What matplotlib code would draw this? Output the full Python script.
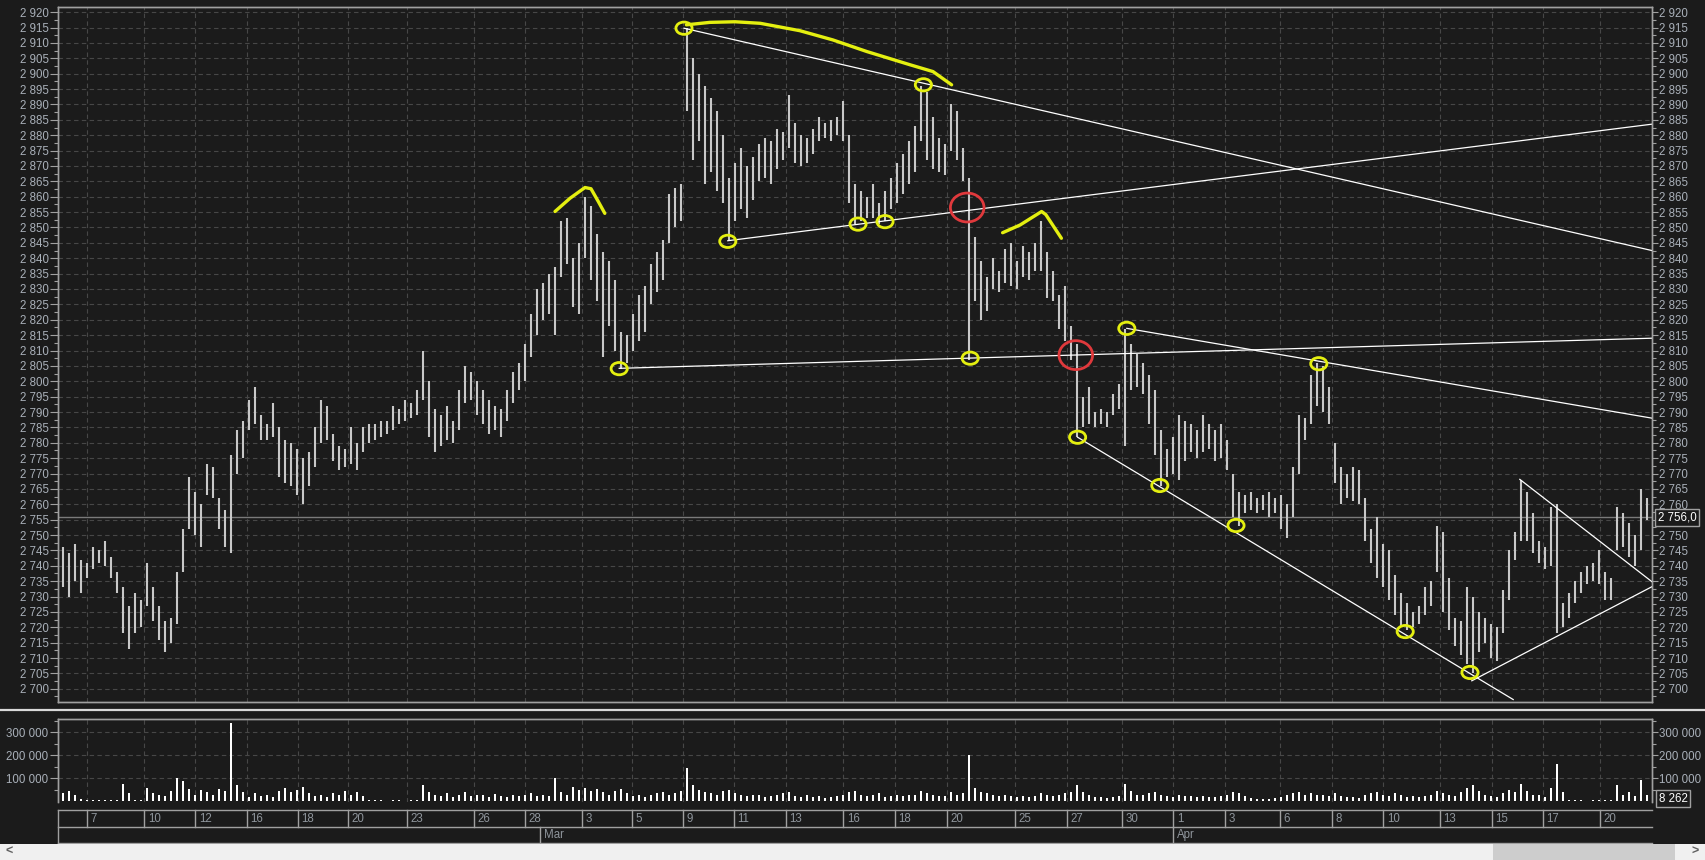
import matplotlib
matplotlib.use("Agg")
import matplotlib.pyplot as plt
from matplotlib.patches import Ellipse, Rectangle
from matplotlib.lines import Line2D
from matplotlib.ticker import MultipleLocator, FixedLocator, FuncFormatter
import numpy as np

# ---------------- data ----------------
highs = [
    2746, 2744, 2747, 2742, 2741, 2746, 2745, 2748, 2743, 2738,
    2733, 2727, 2731, 2729, 2741, 2733, 2727, 2722, 2723, 2738,
    2752, 2769, 2764, 2760, 2773, 2772, 2762, 2758, 2776, 2784,
    2787, 2794, 2798, 2789, 2786, 2793, 2785, 2781, 2780, 2778,
    2775, 2777, 2785, 2794, 2792, 2783, 2779, 2778, 2785, 2780,
    2785, 2786, 2786, 2787, 2787, 2792, 2791, 2794, 2793, 2797,
    2810, 2800, 2791, 2789, 2792, 2787, 2797, 2805, 2803, 2800,
    2797, 2794, 2792, 2791, 2797, 2803, 2806, 2812, 2822, 2830,
    2832, 2835, 2837, 2852, 2853, 2840, 2845, 2860, 2857, 2848,
    2842, 2839, 2833, 2816, 2815, 2822, 2828, 2831, 2838, 2842,
    2846, 2861, 2863, 2864, 2915, 2905, 2900, 2896, 2892, 2888,
    2880, 2866, 2871, 2876, 2870, 2873, 2877, 2879, 2878, 2882,
    2881, 2893, 2884, 2880, 2879, 2882, 2886, 2884, 2885, 2886,
    2891, 2880, 2864, 2862, 2860, 2864, 2858, 2862, 2866, 2871,
    2874, 2878, 2883, 2896, 2894, 2886, 2879, 2877, 2890, 2888,
    2876, 2866, 2847, 2839, 2834, 2840, 2836, 2843, 2845, 2839,
    2844, 2842, 2845, 2852, 2842, 2836, 2828, 2831, 2818, 2812,
    2795, 2798, 2790, 2791, 2790, 2796, 2799, 2817, 2812, 2809,
    2806, 2802, 2797, 2784, 2778, 2782, 2789, 2787, 2786, 2784,
    2789, 2786, 2784, 2786, 2781, 2770, 2764, 2763, 2764, 2762,
    2763, 2764, 2762, 2763, 2760, 2772, 2789, 2788, 2802, 2806,
    2805, 2798, 2780, 2772, 2770, 2772, 2771, 2762, 2752, 2756,
    2747, 2745, 2737, 2731, 2728, 2725, 2727, 2733, 2735, 2753,
    2751, 2736, 2723, 2722, 2733, 2730, 2725, 2723, 2721, 2720,
    2732, 2745, 2751, 2768, 2764, 2757, 2748, 2746, 2759, 2760,
    2728, 2731, 2735, 2738, 2740, 2741, 2745, 2738, 2736, 2759,
    2757, 2754, 2750, 2765, 2762,
]
lows = [
    2733, 2730, 2735, 2731, 2736, 2739, 2741, 2740, 2736, 2731,
    2718, 2713, 2718, 2720, 2727, 2722, 2716, 2712, 2715, 2721,
    2738, 2752, 2750, 2746, 2763, 2762, 2752, 2746, 2744, 2770,
    2775, 2784, 2786, 2781, 2781, 2782, 2769, 2767, 2766, 2763,
    2760, 2766, 2772, 2780, 2781, 2774, 2771, 2772, 2773, 2771,
    2777, 2780, 2781, 2782, 2783, 2784, 2786, 2787, 2788, 2789,
    2794, 2782, 2777, 2779, 2781, 2780, 2784, 2793, 2794, 2789,
    2786, 2783, 2784, 2782, 2787, 2793, 2797, 2800, 2808, 2815,
    2820, 2822, 2815, 2834, 2838, 2824, 2822, 2840, 2833, 2826,
    2808, 2818, 2810, 2804, 2806, 2810, 2813, 2816, 2825, 2829,
    2833, 2845, 2850, 2852, 2888, 2872, 2878, 2864, 2868, 2862,
    2858, 2846, 2852, 2856, 2853, 2859, 2865, 2866, 2864, 2869,
    2872, 2876, 2871, 2870, 2871, 2874, 2878, 2879, 2878, 2880,
    2878, 2858, 2851, 2852, 2853, 2853, 2851, 2852, 2856, 2858,
    2861, 2864, 2868, 2878, 2872, 2869, 2868, 2867, 2875, 2872,
    2865, 2807, 2826, 2820, 2823, 2830, 2829, 2832, 2831, 2830,
    2834, 2833, 2836, 2836, 2827, 2826, 2817, 2813, 2807, 2782,
    2785, 2786, 2785, 2786, 2785, 2789, 2791, 2779, 2797, 2798,
    2796, 2786, 2776, 2766, 2769, 2770, 2768, 2774, 2777, 2775,
    2777, 2778, 2774, 2775, 2771, 2756, 2753, 2757, 2758, 2757,
    2758, 2756, 2757, 2752, 2749, 2756, 2770, 2781, 2786, 2792,
    2790, 2786, 2767, 2760, 2762, 2761, 2760, 2748, 2741, 2736,
    2733, 2729, 2724, 2720, 2719, 2720, 2721, 2724, 2727, 2738,
    2725, 2719, 2714, 2711, 2708, 2705, 2712, 2715, 2710, 2709,
    2718, 2729, 2742, 2748, 2748, 2744, 2741, 2739, 2740, 2718,
    2720, 2723, 2728, 2731, 2734, 2735, 2734, 2729, 2729, 2745,
    2746, 2743, 2740, 2745, 2755,
]
volume_k = [
    35, 45, 28, 9, 6, 5, 6, 5, 7, 6,
    75, 35, 6, 5, 60, 35, 30, 25, 45, 100,
    90, 55, 30, 50, 40, 30, 55, 45, 340, 72,
    40, 20, 35, 25, 30, 18, 45, 58, 40, 50,
    65, 35, 25, 30, 20, 38, 28, 45, 30, 40,
    25, 8, 5, 5, 4, 5, 5, 4, 5, 6,
    70, 40, 30, 25, 35, 20, 30, 40, 25, 30,
    28, 20, 32, 25, 18, 30, 22, 28, 35, 25,
    30, 25, 100, 40, 30, 65, 50, 60, 45, 55,
    40, 30, 45, 55, 35, 25, 30, 20, 28, 35,
    40, 30, 35, 45, 145, 70, 50, 40, 35, 30,
    45, 50, 35, 30, 25, 30, 28, 20, 25, 30,
    35, 40, 25, 20, 30, 18, 22, 15, 20, 25,
    30, 40, 45, 30, 25, 28, 35, 20, 25, 30,
    25, 30, 28, 45, 35, 30, 22, 25, 40, 30,
    35, 200, 60, 40, 35, 30, 25, 28, 22, 20,
    25, 18, 22, 35, 30, 25, 28, 35, 40, 70,
    40, 30, 20, 18, 15, 20, 25, 75, 45, 30,
    28, 35, 40, 30, 25, 20, 30, 25, 22, 20,
    25, 18, 20, 22, 28, 40, 35, 25, 15, 12,
    10, 12, 15, 20, 30, 35, 40, 30, 35, 28,
    30, 25, 35, 22, 18, 20, 15, 30, 35, 40,
    28, 25, 35, 30, 20, 25, 18, 22, 30, 45,
    35, 30, 25, 40, 60, 70, 45, 30, 25, 20,
    35, 50, 40, 75, 45, 30, 28, 20, 60, 165,
    40, 6, 5, 5, 4, 5, 6, 5, 8, 70,
    30, 40, 25, 95, 30,
]
last_price = 2756.0
last_volume = 8262

day_labels = ['7', '10', '12', '16', '18', '20', '23', '26', '28', '3', '5', '9', '11',
              '13', '16', '18', '20', '25', '27', '30', '1', '3', '6', '8', '10', '13',
              '15', '17', '20']
day_pos = [3.95, 13.55, 22.08, 30.6, 39.12, 47.55, 57.27, 68.42, 76.95, 86.45, 94.88,
           103.38, 111.83, 120.45, 130.08, 138.67, 147.28, 158.67, 167.28, 176.55,
           185.05, 193.67, 202.83, 211.45, 220.05, 229.5, 238.12, 246.62, 256.17]
month_labels = ['Mar', 'Apr']
month_pos = [79.57, 185.05]

# white trend lines (bar index, price)
trend_lines = [
    [(103.5, 2914.8), (264.83, 2842.5)],
    [(110.8, 2845.7), (264.83, 2883.6)],
    [(92.7, 2804.2), (264.83, 2814.0)],
    [(177.3, 2817.2), (264.83, 2788.0)],
    [(169.1, 2781.8), (241.7, 2696.5)],
    [(242.8, 2768.1), (264.83, 2734.8)],
    [(234.8, 2702.6), (264.83, 2733.2)],
]
# yellow marked points
yellow_marks = [(103.5, 2914.8), (92.7, 2804.1), (110.8, 2845.5), (132.5, 2851.1),
                (137.0, 2851.9), (143.4, 2896.4), (151.2, 2807.5), (169.1, 2781.8),
                (177.3, 2817.2), (182.8, 2766.1), (195.5, 2753.1), (209.3, 2805.7),
                (223.7, 2718.6), (234.5, 2705.3)]
red_marks = [(150.7, 2856.5), (168.8, 2808.5)]
yellow_arcs = [
    [(82.0, 2855.2), (84.5, 2859.5), (87.0, 2863.0), (88.0, 2862.6), (89.2, 2858.5), (90.3, 2854.6)],
    [(103.9, 2915.9), (107.8, 2916.7), (112.0, 2916.9), (116.2, 2916.4), (122.8, 2914.0),
     (128.3, 2911.0), (134.0, 2907.2), (141.2, 2902.9), (145.0, 2900.7), (148.1, 2896.4)],
    [(156.6, 2848.3), (159.5, 2850.8), (163.1, 2855.2), (163.8, 2854.2), (166.4, 2846.5)],
]

# ---------------- style ----------------
BG = '#1b1b1b'
GRID = '#474747'
SPINE = '#a0a0a0'
LBL = '#a9b0b9'
DATE_LBL = '#8f959c'
BAR = '#c8c8c8'
YEL = '#e4ef10'
RED = '#e0393c'
FONT = 'Liberation Sans'
FS = 8.3

plt.rcParams['font.family'] = [FONT, 'DejaVu Sans']

W, H = 1705, 860
fig = plt.figure(figsize=(W / 100, H / 100), dpi=100)
fig.patch.set_facecolor(BG)

L, R = 58, 1652
X0, X1 = -(63 - L) / 6.0, (R - 63) / 6.0


def fig_rect(top, bottom):
    return [L / W, 1 - bottom / H, (R - L) / W, (bottom - top) / H]


def thousands(v, pos=None):
    return f"{v:,.0f}".replace(',', ' ')


ax = fig.add_axes(fig_rect(7, 702))
axv = fig.add_axes(fig_rect(719, 802))
axd = fig.add_axes(fig_rect(810, 843))

x = np.arange(len(highs))

# ---------------- price panel ----------------
ax.set_facecolor(BG)
ax.set_xlim(X0, X1)
PY0, PY1 = 2695.7, 2921.7
ax.set_ylim(PY0, PY1)
ax.vlines(x, lows, highs, colors=BAR, linewidth=1.5, zorder=3)
ax.axhline(last_price, color='#7a7a7a', lw=1.0, zorder=2)

for (p0, p1) in trend_lines:
    ax.plot([p0[0], p1[0]], [p0[1], p1[1]], color='white', lw=0.9, zorder=4)

for arc in yellow_arcs:
    ax.plot([p[0] for p in arc], [p[1] for p in arc], color=YEL, lw=2.4,
            solid_capstyle='round', solid_joinstyle='round', zorder=6)
for (cx, cy) in yellow_marks:
    ax.add_patch(Ellipse((cx, cy), 2.7, 4.0, fill=False, ec=YEL, lw=2.0, zorder=6))
for (cx, cy) in red_marks:
    ax.add_patch(Ellipse((cx, cy), 5.6, 9.4, fill=False, ec=RED, lw=2.0, zorder=6))

ax.yaxis.set_major_locator(MultipleLocator(5))
ax.yaxis.set_minor_locator(MultipleLocator(2.5))
ax.yaxis.set_major_formatter(FuncFormatter(thousands))
ax.xaxis.set_major_locator(FixedLocator(day_pos))
ax.tick_params(axis='x', length=0, labelbottom=False)
ax.tick_params(axis='y', which='major', direction='out', length=5.8, width=0.8,
               color=SPINE, pad=1, labelcolor=LBL, labelsize=FS)
ax.tick_params(axis='y', which='minor', direction='out', length=2.9, width=0.8, color=SPINE)
ax.grid(True, which='major', color=GRID, linestyle=(0, (4, 3)), lw=0.8)
ax.set_axisbelow(True)
for s in ax.spines.values():
    s.set_color(SPINE)
    s.set_linewidth(1.0)

axr = ax.twinx()
axr.set_ylim(PY0, PY1)
axr.yaxis.set_major_locator(MultipleLocator(5))
axr.yaxis.set_minor_locator(MultipleLocator(2.5))
axr.yaxis.set_major_formatter(FuncFormatter(
    lambda v, p: '' if abs(v - 2755) < 0.1 else thousands(v)))
axr.tick_params(axis='y', which='major', direction='out', length=4.3, width=0.8,
                color=SPINE, pad=1, labelcolor=LBL, labelsize=FS)
axr.tick_params(axis='y', which='minor', direction='out', length=2.9, width=0.8, color=SPINE)
for s in axr.spines.values():
    s.set_color(SPINE)
    s.set_linewidth(1.0)

# ---------------- volume panel ----------------
axv.set_facecolor(BG)
axv.set_xlim(X0, X1)
VY0, VY1 = -2200, 358700
axv.set_ylim(VY0, VY1)
axv.bar(x, np.array(volume_k) * 1000, width=0.34, color='white', linewidth=0, zorder=3)
axv.yaxis.set_major_locator(FixedLocator([100000, 200000, 300000]))
axv.yaxis.set_minor_locator(FixedLocator([50000, 150000, 250000, 350000]))
axv.yaxis.set_major_formatter(FuncFormatter(thousands))
axv.xaxis.set_major_locator(FixedLocator(day_pos))
axv.tick_params(axis='x', length=0, labelbottom=False)
axv.tick_params(axis='y', which='major', direction='out', length=5.8, width=0.8,
                color=SPINE, pad=1, labelcolor=LBL, labelsize=FS)
axv.tick_params(axis='y', which='minor', direction='out', length=2.9, width=0.8, color=SPINE)
axv.grid(True, which='major', color=GRID, linestyle=(0, (4, 3)), lw=0.8)
axv.set_axisbelow(True)
for s in axv.spines.values():
    s.set_color(SPINE)
    s.set_linewidth(1.0)
axv.spines['bottom'].set_visible(False)

axvr = axv.twinx()
axvr.set_ylim(VY0, VY1)
axvr.yaxis.set_major_locator(FixedLocator([100000, 200000, 300000]))
axvr.yaxis.set_minor_locator(FixedLocator([50000, 150000, 250000, 350000]))
axvr.yaxis.set_major_formatter(FuncFormatter(thousands))
axvr.tick_params(axis='y', which='major', direction='out', length=4.3, width=0.8,
                 color=SPINE, pad=1, labelcolor=LBL, labelsize=FS)
axvr.tick_params(axis='y', which='minor', direction='out', length=2.9, width=0.8, color=SPINE)
for s in axvr.spines.values():
    s.set_color(SPINE)
    s.set_linewidth(1.0)
axvr.spines['bottom'].set_visible(False)

# ---------------- date axis ----------------
axd.set_facecolor(BG)
axd.set_xlim(X0, X1)
axd.set_ylim(0, 2)
axd.axis('off')
for yy in (0, 1, 2):
    axd.plot([X0, X1], [yy, yy], color=SPINE, lw=1.0, clip_on=False)
axd.plot([X0, X0], [0, 2], color=SPINE, lw=1.0, clip_on=False)
for pos, lab in zip(day_pos, day_labels):
    axd.plot([pos, pos], [1, 2], color=SPINE, lw=1.0, clip_on=False)
    axd.text(pos + 0.6, 1.47, lab, ha='left', va='center', color=DATE_LBL, fontsize=FS)
for pos, lab in zip(month_pos, month_labels):
    axd.plot([pos, pos], [0, 1], color=SPINE, lw=1.0, clip_on=False)
    axd.text(pos + 0.6, 0.47, lab, ha='left', va='center', color=DATE_LBL, fontsize=FS)

# ---------------- decorations ----------------
fig.add_artist(Line2D([0, 1], [1 - 710 / H, 1 - 710 / H], color='#d9d9d9', lw=1.6))

fig.text(1677 / W, 1 - 517.5 / H, thousands(int(last_price)) + ',0', ha='center', va='center',
         color='white', fontsize=FS,
         bbox=dict(boxstyle='square,pad=0.25', fc=BG, ec=SPINE, lw=1.0))
fig.text(1673 / W, 1 - 798.5 / H, thousands(last_volume), ha='center', va='center',
         color='white', fontsize=FS,
         bbox=dict(boxstyle='square,pad=0.25', fc=BG, ec=SPINE, lw=1.0))

fig.add_artist(Rectangle((0, 0), 1, 16 / H, transform=fig.transFigure,
                         facecolor='#f0f0f0', edgecolor='none'))
fig.add_artist(Rectangle((1493 / W, 0), (1675 - 1493) / W, 16 / H, transform=fig.transFigure,
                         facecolor='#cdcdcd', edgecolor='none'))
fig.text(9 / W, 8 / H, '<', ha='center', va='center', color='#606060', fontsize=9,
         fontweight='bold')
fig.text(1695 / W, 8 / H, '>', ha='center', va='center', color='#606060', fontsize=9,
         fontweight='bold')

fig.savefig('out.png', dpi=100, facecolor=BG)
